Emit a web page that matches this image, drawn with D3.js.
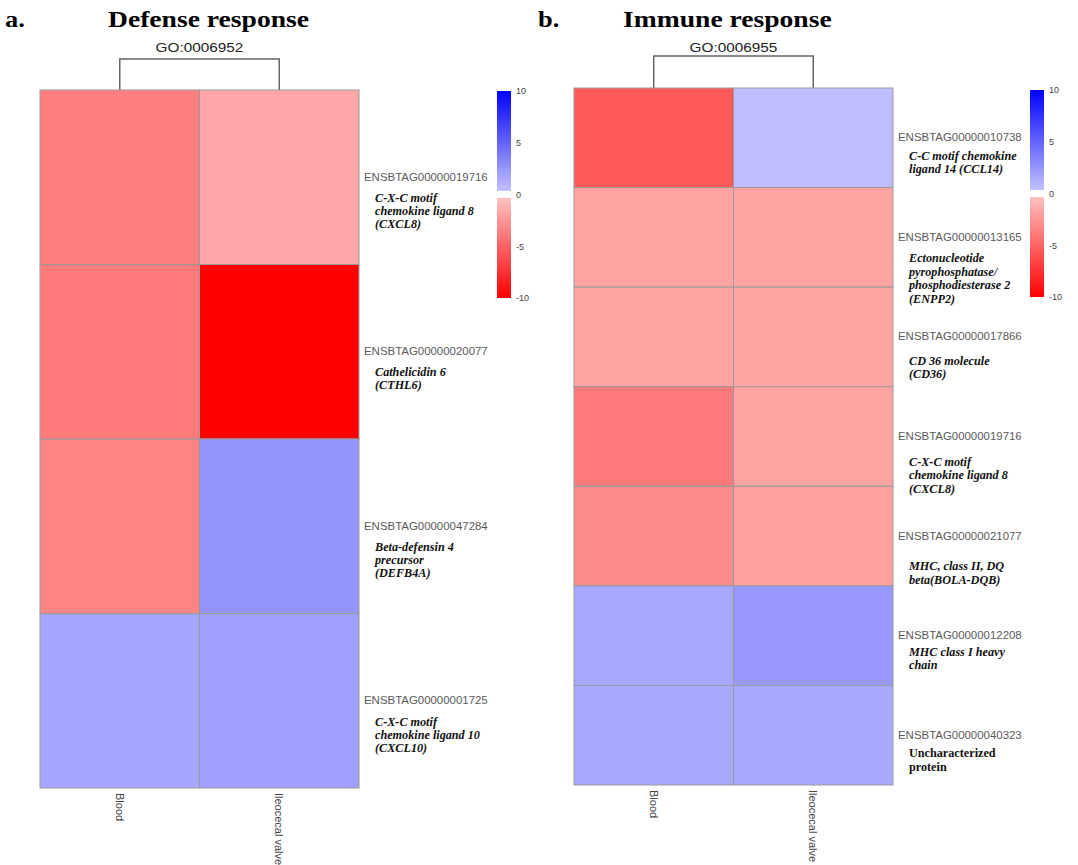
<!DOCTYPE html>
<html>
<head>
<meta charset="utf-8">
<script src="https://cdn.jsdelivr.net/npm/d3@7"></script>
<style>
  body { margin: 0; background: #fff; }
  svg { display: block; }
  .title { font-family: "Liberation Serif", serif; font-weight: bold; font-size: 23px; fill: #000; }
  .go { font-family: "Liberation Sans", Arial, sans-serif; font-size: 13px; fill: #222; }
  .gid { font-family: "Liberation Sans", Arial, sans-serif; font-size: 10.5px; fill: #5a5a5a; }
  .desc { font-family: "Liberation Serif", serif; font-weight: bold; font-style: italic; fill: #111; }
  .tick { font-family: "Liberation Sans", Arial, sans-serif; font-size: 9px; fill: #444; }
  .sample { font-family: "Liberation Sans", Arial, sans-serif; font-size: 11px; fill: #444; }
</style>
</head>
<body>
<script>
//data
var samples = ["Blood", "Ileocecal valve"];
var legendTicks = [10, 5, 0, -5, -10];

var defenseGo = "GO:0006952";
var defenseIds = ["ENSBTAG00000019716", "ENSBTAG00000020077", "ENSBTAG00000047284", "ENSBTAG00000001725"];
var defenseGenes = [
  ["C-X-C motif", "chemokine ligand 8", "(CXCL8)"],
  ["Cathelicidin 6", "(CTHL6)"],
  ["Beta-defensin 4", "precursor", "(DEFB4A)"],
  ["C-X-C motif", "chemokine ligand 10", "(CXCL10)"]
];
//log fold change, [Blood, Ileocecal valve]
var defenseValues = [[-3.65, -1.7], [-3.85, -10], [-3.35, 2.6], [1.7, 2.0]];

var immuneGo = "GO:0006955";
var immuneIds = ["ENSBTAG00000010738", "ENSBTAG00000013165", "ENSBTAG00000017866", "ENSBTAG00000019716",
                 "ENSBTAG00000021077", "ENSBTAG00000012208", "ENSBTAG00000040323"];
var immuneGenes = [
  ["C-C motif chemokine", "ligand 14 (CCL14)"],
  ["Ectonucleotide", "pyrophosphatase/", "phosphodiesterase 2", "(ENPP2)"],
  ["CD 36 molecule", "(CD36)"],
  ["C-X-C motif", "chemokine ligand 8", "(CXCL8)"],
  ["MHC, class II, DQ", "beta(BOLA-DQB)"],
  ["MHC class I heavy", "chain"],
  ["Uncharacterized", "protein"]
];
var immuneValues = [[-5.5, 0.5], [-1.85, -1.85], [-1.85, -1.85], [-3.85, -1.85],
                    [-3.1, -2.0], [1.6, 2.4], [1.6, 1.6]];
var immuneItalic = [true, true, true, true, true, true, false];

//colour: light tint near zero, saturated at +-10, white band around 0
var blueScale = d3.scaleLinear().domain([0, 10]).range(["#c8c8ff", "#0000ff"]).clamp(true);
var redScale = d3.scaleLinear().domain([0, -10]).range(["#ffc8c8", "#ff0000"]).clamp(true);
function colorOf(v) {
    if (Math.abs(v) < 0.35) return "#ffffff";
    return v > 0 ? blueScale(v) : redScale(v);
}

var svg = d3.select("body").append("svg")
    .attr("width", 1078)
    .attr("height", 865);

//text with a slight horizontal stretch, like the source figure
function stretchText(g, x, y, str, cls, sx) {
    return g.append("text")
        .attr("class", cls)
        .attr("transform", "translate(" + x + "," + y + ") scale(" + sx + ",1)")
        .text(str);
}

function drawPanel(p) {
    var g = svg.append("g");

    var xScale = d3.scaleBand().domain(samples).range([p.left, p.right]);
    var yScale = d3.scaleBand().domain(p.ids).range([p.top, p.bottom]);

    //titles
    stretchText(g, p.letterX, 27, p.letter, "title", 1.15);
    stretchText(g, p.titleX, 27, p.title, "title", 1.2);
    stretchText(g, (p.left + p.right) / 2, 52, p.go, "go", 1.18).attr("text-anchor", "middle");

    //dendrogram
    var c0 = xScale(samples[0]) + xScale.bandwidth() / 2;
    var c1 = xScale(samples[1]) + xScale.bandwidth() / 2;
    g.append("path")
        .attr("d", "M " + c0 + " " + p.top + " V " + p.treeY + " H " + c1 + " V " + p.top)
        .attr("fill", "none")
        .attr("stroke", "#666")
        .attr("stroke-width", 1.5);

    //cells
    var cells = [];
    p.values.forEach(function(row, i) {
        row.forEach(function(v, j) { cells.push({id: p.ids[i], s: samples[j], v: v}); });
    });
    g.selectAll("rect.cell")
        .data(cells)
        .enter()
        .append("rect")
        .attr("class", "cell")
        .attr("x", function(d) { return xScale(d.s); })
        .attr("y", function(d) { return yScale(d.id); })
        .attr("width", xScale.bandwidth())
        .attr("height", yScale.bandwidth())
        .attr("fill", function(d) { return colorOf(d.v); })
        .attr("stroke", "#9a9a9a")
        .attr("stroke-width", 1);

    //row labels
    p.ids.forEach(function(id, i) {
        var cy = yScale(id) + yScale.bandwidth() / 2;
        stretchText(g, p.right + 5, cy + 3.5, id, "gid", 1.09);
        var t = g.append("text")
            .attr("class", "desc")
            .style("font-size", p.descSize + "px")
            .style("font-style", p.italic[i] ? "italic" : "normal");
        p.genes[i].forEach(function(line, k) {
            t.append("tspan")
                .attr("x", p.right + 16)
                .attr("y", cy + p.descGap[i] + 4 + k * p.lineStep)
                .text(line);
        });
    });

    //sample labels
    samples.forEach(function(s) {
        g.append("text")
            .attr("class", "sample")
            .attr("transform", "translate(" + (xScale(s) + xScale.bandwidth() / 2) + "," + (p.bottom + 5) + ") rotate(90)")
            .attr("dy", "0.35em")
            .text(s);
    });

    //colour legend
    var lScale = d3.scaleLinear().domain([-10, 10]).range([p.legBottom, p.legTop]);
    var gradId = "grad" + p.letter.replace(".", "");
    var grad = svg.append("defs").append("linearGradient")
        .attr("id", gradId)
        .attr("x1", 0).attr("y1", 1).attr("x2", 0).attr("y2", 0);
    var stops = [-10, -5, -0.35, -0.35, 0.35, 0.35, 5, 10];
    var stopColors = [colorOf(-10), colorOf(-5), colorOf(-0.36), "#ffffff", "#ffffff", colorOf(0.36), colorOf(5), colorOf(10)];
    grad.selectAll("stop")
        .data(stops)
        .enter()
        .append("stop")
        .attr("offset", function(d) { return (d + 10) / 20; })
        .attr("stop-color", function(d, i) { return stopColors[i]; });
    g.append("rect")
        .attr("x", p.legX)
        .attr("y", p.legTop)
        .attr("width", 14)
        .attr("height", p.legBottom - p.legTop)
        .attr("fill", "url(#" + gradId + ")");
    var legAxis = d3.axisRight(lScale)
        .tickValues(legendTicks)
        .tickFormat(function(d) { return String(d); })
        .tickSize(0)
        .tickPadding(5);
    var ag = g.append("g")
        .attr("transform", "translate(" + (p.legX + 14) + ",0)")
        .call(legAxis);
    ag.select(".domain").remove();
    ag.selectAll("text").attr("class", "tick").attr("font-family", null).attr("font-size", null);
}

drawPanel({
    letter: "a.", letterX: 5, title: "Defense response", titleX: 108, go: defenseGo,
    ids: defenseIds, genes: defenseGenes, values: defenseValues, italic: [true, true, true, true],
    left: 40, right: 359, top: 90, bottom: 788, treeY: 59,
    descSize: 12.2, descGap: [21, 20, 21, 21], lineStep: 13,
    legX: 497, legTop: 91, legBottom: 298
});

drawPanel({
    letter: "b.", letterX: 538, title: "Immune response", titleX: 623, go: immuneGo,
    ids: immuneIds, genes: immuneGenes, values: immuneValues, italic: immuneItalic,
    left: 574, right: 893, top: 88, bottom: 785, treeY: 56,
    descSize: 12.2, descGap: [18, 21, 24, 25, 30, 16, 18], lineStep: 13.5,
    legX: 1030, legTop: 90, legBottom: 297
});
</script>
</body>
</html>
